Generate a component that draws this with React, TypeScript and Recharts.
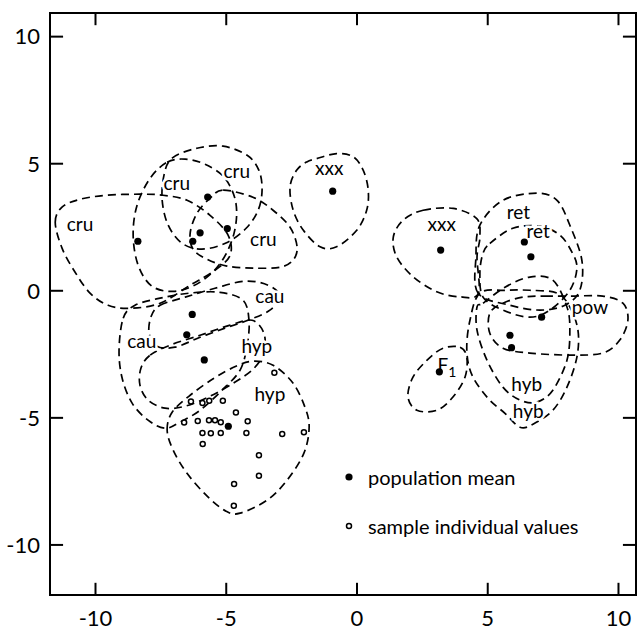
import React from 'react';
import { ScatterChart, Scatter, XAxis, YAxis, ReferenceArea, ReferenceLine, Legend } from 'recharts';

const FONT = 'Lato, "Noto Sans", sans-serif';

// axes
const xDomain: [number, number] = [-11.74, 10.67];
const yDomain: [number, number] = [-11.97, 10.93];
const xTicks = [-10, -5, 0, 5, 10];
const yTicks = [-10, -5, 0, 5, 10];

// population means (filled dots)
const populationMeans = [
  [-8.38, 1.95], [-5.71, 3.69], [-6.0, 2.28], [-6.28, 1.95], [-4.96, 2.45],
  [-6.3, -0.93], [-6.51, -1.73], [-5.84, -2.72], [-4.92, -5.33],
  [-0.93, 3.92],
  [3.2, 1.6], [6.4, 1.92], [6.65, 1.34], [7.06, -1.04], [5.85, -1.75], [5.91, -2.24], [3.15, -3.19],
];

// sample individual values (open circles)
const sampleValues = [
  [-3.16, -3.23], [-6.35, -4.36], [-5.91, -4.42], [-5.65, -4.33], [-5.13, -4.33], [-4.63, -4.79],
  [-6.61, -5.18], [-6.09, -5.12], [-5.66, -5.09], [-5.43, -5.09], [-5.21, -5.17], [-4.18, -5.13],
  [-5.91, -5.6], [-5.59, -5.61], [-5.21, -5.6], [-4.23, -5.6], [-2.86, -5.64], [-2.03, -5.57],
  [-5.9, -6.03], [-3.75, -6.47], [-3.75, -7.28], [-4.7, -7.6], [-4.71, -8.46],
];

// group outlines (dashed)
const cruWest = [[-11.54, 2.7], [-11.28, 3.29], [-10.59, 3.6], [-9.56, 3.76], [-8.3, 3.8], [-7.42, 3.76], [-6.5, 3.56], [-5.62, 2.97], [-4.93, 2.19], [-4.85, 1.4], [-5.43, 0.81], [-6.38, 0.22], [-7.53, -0.49], [-8.68, -0.69], [-9.52, -0.57], [-10.21, -0.09], [-10.78, 0.73], [-11.28, 1.68]];
const cruMid = [[-7.26, 5.06], [-6.57, 5.18], [-5.81, 4.98], [-5.05, 4.43], [-4.63, 3.45], [-4.7, 2.27], [-5.2, 1.12], [-6.0, 0.34], [-6.96, -0.02], [-7.84, 0.18], [-8.37, 1.01], [-8.56, 2.19], [-8.41, 3.37], [-7.91, 4.43]];
const cruTop = [[-7.07, 5.22], [-6.12, 5.61], [-5.12, 5.69], [-4.2, 5.33], [-3.75, 4.74], [-3.63, 3.96], [-3.78, 3.17], [-4.24, 2.46], [-5.01, 1.88], [-5.93, 1.64], [-6.69, 1.87], [-7.22, 2.58], [-7.45, 3.56], [-7.38, 4.55]];
const cruEast = [[-5.12, 3.96], [-3.98, 3.68], [-3.21, 3.17], [-2.56, 2.5], [-2.29, 1.72], [-2.45, 1.2], [-2.94, 0.93], [-3.98, 0.89], [-4.97, 0.97], [-5.73, 1.24], [-6.27, 1.64], [-6.38, 2.27], [-6.12, 3.05], [-5.62, 3.64]];
const xxxWest = [[-1.54, 5.2], [-0.78, 5.4], [-0.14, 5.27], [0.24, 4.74], [0.43, 3.96], [0.37, 3.17], [-0.01, 2.38], [-0.78, 1.73], [-1.41, 1.73], [-2.05, 2.38], [-2.44, 3.17], [-2.56, 4.09], [-2.31, 4.74], [-1.92, 5.07]];
const cauEast = [[-7.53, -0.57], [-6.57, -0.25], [-5.43, 0.1], [-4.28, 0.38], [-3.4, 0.22], [-2.94, -0.21], [-3.33, -0.76], [-4.17, -1.16], [-5.05, -1.47], [-6.0, -1.83], [-6.96, -2.22], [-7.65, -2.18], [-7.95, -1.67], [-7.87, -1.0]];
const cauWest = [[-8.94, -1.08], [-8.49, -0.57], [-7.53, -0.29], [-6.38, -0.09], [-5.24, -0.06], [-4.36, -0.37], [-4.13, -1.16], [-4.2, -2.14], [-4.47, -3.12], [-5.16, -3.91], [-6.0, -4.7], [-6.77, -5.17], [-7.34, -5.41], [-7.99, -5.09], [-8.6, -4.42], [-8.98, -3.44], [-9.1, -2.34]];
const hypUpper = [[-7.91, -2.53], [-7.15, -2.14], [-6.0, -1.75], [-4.85, -1.35], [-4.01, -1.16], [-3.56, -1.67], [-3.56, -2.42], [-3.94, -3.05], [-4.66, -3.59], [-5.62, -4.15], [-6.57, -4.54], [-7.34, -4.62], [-7.99, -4.3], [-8.3, -3.71], [-8.26, -3.04]];
const hypLower = [[-7.26, -5.48], [-7.07, -4.78], [-6.38, -4.11], [-5.47, -3.44], [-4.63, -2.97], [-3.98, -2.77], [-3.21, -2.93], [-2.45, -3.63], [-1.99, -4.58], [-1.83, -5.37], [-2.03, -6.39], [-2.68, -7.46], [-3.44, -8.24], [-4.47, -8.75], [-5.01, -8.67], [-5.73, -8.08], [-6.5, -7.18], [-7.03, -6.27]];
const xxxEast = [[2.53, 3.17], [3.68, 3.24], [4.58, 2.84], [4.7, 2.11], [4.59, 1.32], [4.64, -0.11], [3.94, -0.24], [3.05, -0.04], [2.15, 0.55], [1.52, 1.33], [1.39, 2.12], [1.77, 2.78]];
const retUpper = [[4.63, -0.09], [4.55, 1.36], [4.7, 2.58], [5.58, 3.56], [6.88, 3.84], [7.65, 3.56], [8.14, 2.58], [8.6, 1.2], [8.52, 0.02], [7.95, -0.57], [7.0, -0.76], [5.85, -0.57]];
const retLower = [[5.08, 1.86], [5.96, 2.46], [7.0, 2.54], [7.76, 2.19], [8.22, 1.52], [8.41, 0.89], [8.14, 0.02], [7.38, -0.76], [6.61, -1.04], [5.58, -0.76], [4.82, -0.25], [4.7, 0.69], [4.82, 1.48]];
const powOutline = [[7.19, -0.21], [8.14, -0.21], [9.4, -0.21], [10.17, -0.49], [10.36, -1.16], [10.05, -1.94], [9.4, -2.45], [8.14, -2.53], [6.61, -2.45], [5.58, -2.26], [5.08, -1.67], [5.08, -0.88], [5.58, -0.49], [6.35, -0.25]];
const hybUpper = [[4.82, -0.49], [5.66, 0.14], [6.61, 0.54], [7.49, 0.42], [8.03, -0.64], [8.14, -1.55], [8.03, -2.73], [7.49, -3.91], [6.88, -4.38], [6.23, -4.3], [5.58, -3.79], [4.97, -2.73], [4.59, -1.55], [4.59, -0.64]];
const hybLower = [[4.7, -0.09], [4.32, -1.16], [4.2, -2.34], [4.4, -3.32], [5.01, -4.23], [5.66, -4.82], [6.23, -5.37], [6.73, -5.25], [7.49, -4.7], [8.03, -3.79], [8.41, -2.61], [8.45, -1.55], [8.14, -0.64], [7.65, -0.09], [6.61, 0.02], [5.66, 0.02]];
const f1Outline = [[3.94, -2.22], [4.2, -2.61], [4.13, -3.4], [3.67, -4.18], [3.06, -4.7], [2.29, -4.7], [1.95, -4.18], [2.14, -3.4], [2.68, -2.73], [3.29, -2.26]];

const outlines = [cruWest, cruMid, cruTop, cruEast, xxxWest, cauEast, cauWest, hypUpper, hypLower, xxxEast, retUpper, retLower, powOutline, hybUpper, hybLower, f1Outline];

// group labels
const labelNames = ['cru', 'cru', 'cru', 'cru', 'cau', 'cau', 'hyp', 'hyp', 'xxx', 'xxx', 'ret', 'ret', 'pow', 'hyb', 'hyb', 'F'];
const labelX = [-10.59, -6.89, -4.6, -3.58, -3.33, -8.23, -3.83, -3.33, -1.06, 3.24, 6.17, 6.93, 8.91, 6.49, 6.55, 3.44];
const labelY = [2.65, 4.28, 4.74, 2.06, -0.17, -1.94, -2.14, -4.04, 4.87, 2.65, 3.1, 2.38, -0.63, -3.65, -4.7, -2.89];

const legendItems = ['population mean', 'sample individual values'];

const toPts = (a: number[][]) => a.map(([x, y]) => ({ x, y }));
const labelData = labelNames.map((t, i) => ({ x: labelX[i], y: labelY[i], text: t }));

const Empty = () => <g />;

// closed smooth curve through the scaled points the library hands over
const closedCurve = (pts: { x: number; y: number }[]) => {
  const n = pts.length;
  if (n < 3) return '';
  let d = `M${pts[0].x},${pts[0].y}`;
  for (let i = 0; i < n; i++) {
    const p0 = pts[(i - 1 + n) % n];
    const p1 = pts[i];
    const p2 = pts[(i + 1) % n];
    const p3 = pts[(i + 2) % n];
    const c1x = p1.x + (p2.x - p0.x) / 6;
    const c1y = p1.y + (p2.y - p0.y) / 6;
    const c2x = p2.x - (p3.x - p1.x) / 6;
    const c2y = p2.y - (p3.y - p1.y) / 6;
    d += ` C${c1x},${c1y} ${c2x},${c2y} ${p2.x},${p2.y}`;
  }
  return d + 'Z';
};

const OutlineLine = (props: any) => (
  <path
    d={closedCurve(props.points || [])}
    fill="none"
    stroke="#000"
    strokeWidth={1.7}
    strokeDasharray="8 5"
  />
);

const LabelShape = (p: any) => {
  const t = p.payload.text;
  return (
    <text
      x={p.cx}
      y={p.cy}
      textAnchor="middle"
      dominantBaseline="central"
      fontFamily={FONT}
      fontSize={19}
      fill="#000"
      stroke="#fff"
      strokeWidth={5}
      paintOrder="stroke"
    >
      {t}
      {t === 'F' ? <tspan fontSize={14} dy={7}>1</tspan> : null}
    </text>
  );
};

const MeanShape = (p: any) => <circle cx={p.cx} cy={p.cy} r={3.6} fill="#000" />;
const SampleShape = (p: any) => <circle cx={p.cx} cy={p.cy} r={2.5} fill="#fff" stroke="#000" strokeWidth={1.5} />;

const LegendContent = () => (
  <div style={{ fontFamily: FONT, fontSize: 20, color: '#000' }}>
    {legendItems.map((t, i) => (
      <div key={t} style={{ display: 'flex', alignItems: 'center', height: 49 }}>
        <svg width={28} height={14}>
          {i === 0 ? (
            <circle cx={9} cy={7} r={3.6} fill="#000" />
          ) : (
            <circle cx={9} cy={7} r={2.5} fill="#fff" stroke="#000" strokeWidth={1.5} />
          )}
        </svg>
        <span>{t}</span>
      </div>
    ))}
  </div>
);

export default function App() {
  const tickX = 0.5;
  const tickY = 0.48;
  return (
    <div style={{ position: 'absolute', left: 0, top: 0, background: '#fff' }}>
      <ScatterChart width={639} height={632} margin={{ top: 13, right: 3, bottom: 0, left: 0 }}>
        <XAxis
          type="number"
          dataKey="x"
          domain={xDomain}
          allowDataOverflow
          ticks={xTicks}
          axisLine={false}
          tickLine={false}
          tickSize={0}
          tickMargin={15}
          height={37}
          tick={{ fill: '#000', fontSize: 22, fontFamily: FONT }}
        />
        <YAxis
          type="number"
          dataKey="y"
          domain={yDomain}
          allowDataOverflow
          ticks={yTicks}
          axisLine={false}
          tickLine={false}
          tickSize={0}
          tickMargin={10}
          width={50}
          tick={{ fill: '#000', fontSize: 22, fontFamily: FONT }}
        />
        <ReferenceArea x1={xDomain[0]} x2={xDomain[1]} y1={yDomain[0]} y2={yDomain[1]} fill="none" stroke="#000" strokeWidth={2} fillOpacity={0} />
        {xTicks.map((t) => (
          <ReferenceLine key={'xb' + t} segment={[{ x: t, y: yDomain[0] }, { x: t, y: yDomain[0] + tickY }]} stroke="#000" strokeWidth={2} />
        ))}
        {xTicks.map((t) => (
          <ReferenceLine key={'xt' + t} segment={[{ x: t, y: yDomain[1] }, { x: t, y: yDomain[1] - tickY }]} stroke="#000" strokeWidth={2} />
        ))}
        {yTicks.map((t) => (
          <ReferenceLine key={'yl' + t} segment={[{ x: xDomain[0], y: t }, { x: xDomain[0] + tickX, y: t }]} stroke="#000" strokeWidth={2} />
        ))}
        {yTicks.map((t) => (
          <ReferenceLine key={'yr' + t} segment={[{ x: xDomain[1], y: t }, { x: xDomain[1] - tickX, y: t }]} stroke="#000" strokeWidth={2} />
        ))}
        {outlines.map((o, i) => (
          <Scatter
            key={'o' + i}
            data={toPts(o)}
            shape={Empty}
            line={OutlineLine}
            legendType="none"
            isAnimationActive={false}
          />
        ))}
        <Scatter data={labelData} shape={LabelShape} legendType="none" isAnimationActive={false} />
        <Scatter data={toPts(sampleValues)} shape={SampleShape} legendType="none" isAnimationActive={false} />
        <Scatter data={toPts(populationMeans)} shape={MeanShape} legendType="none" isAnimationActive={false} />
        <Legend
          layout="vertical"
          align="center"
          verticalAlign="middle"
          wrapperStyle={{ position: 'absolute', left: 340, top: 452, width: 290, height: 98 }}
          content={LegendContent}
        />
      </ScatterChart>
    </div>
  );
}
